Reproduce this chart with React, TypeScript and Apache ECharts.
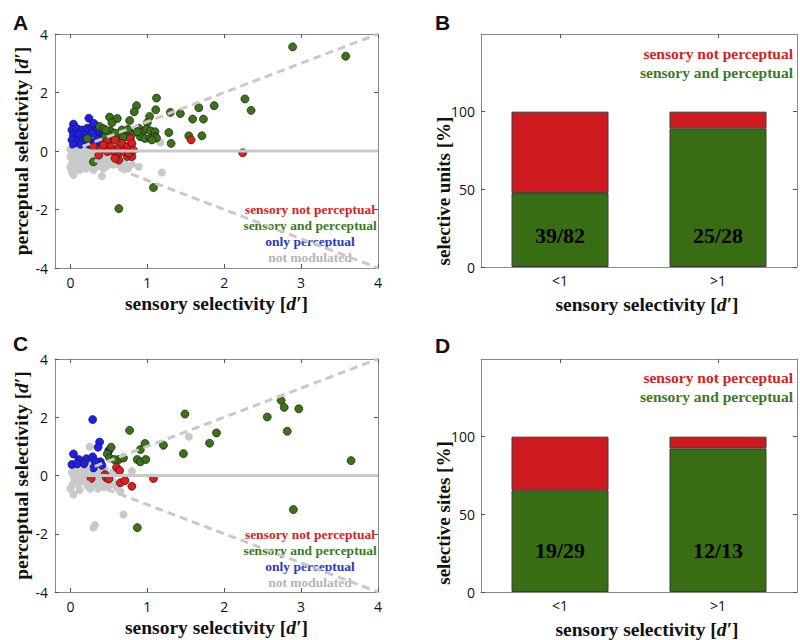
import { useEffect, useRef } from "react";
import * as echarts from "echarts";

// ---------- Panel A: single units, [sensory d', perceptual d'] ----------
const unitsNotModulated: number[][] = [
  [0.02, -0.05], [0.05, -0.15], [0.08, 0.05], [0.1, -0.25], [0.03, -0.35], [0.12, -0.4],
  [0.15, -0.1], [0.18, -0.3], [0.2, 0.02], [0.22, -0.2], [0.25, -0.45], [0.28, -0.1],
  [0.3, -0.3], [0.33, -0.05], [0.35, -0.22], [0.38, -0.4], [0.4, -0.15], [0.42, 0.05],
  [0.45, -0.3], [0.48, -0.5], [0.05, 0.1], [0.0, -0.2], [0.02, -0.45], [0.07, -0.55],
  [0.13, -0.55], [0.17, 0.1], [0.26, 0.12], [0.32, 0.15], [0.1, 0.2], [0.0, 0.05],
  [0.06, -0.3], [0.16, -0.45], [0.23, -0.35], [0.27, -0.55], [0.36, -0.52], [0.43, -0.6],
  [0.52, -0.35], [0.55, -0.15], [0.58, -0.45], [0.62, -0.3], [0.66, -0.55], [0.7, -0.4],
  [0.02, -0.71], [0.04, -0.82], [0.41, -0.86], [0.89, -0.54], [1.19, -0.74], [1.17, 0.29],
  [0.75, -0.6], [0.8, -0.45], [0.5, 0.1], [0.12, -0.65], [0.2, -0.6], [0.3, -0.65],
  [0.6, 0.0], [0.0, -0.55], [0.09, -0.12], [0.19, -0.15], [0.34, -0.38], [0.46, -0.12],
];

const unitsOnlyPerceptual: number[][] = [
  [0.24, 1.12], [0.04, 0.92], [0.02, 0.72], [0.09, 0.76], [0.15, 0.72], [0.22, 0.78],
  [0.28, 0.8], [0.32, 0.89], [0.35, 0.69], [0.04, 0.55], [0.11, 0.57], [0.19, 0.53],
  [0.28, 0.61], [0.39, 0.55], [0.02, 0.38], [0.09, 0.32], [0.17, 0.38], [0.26, 0.32],
  [0.35, 0.41], [0.41, 0.34], [0.04, 0.21], [0.13, 0.23], [0.24, 0.23], [0.32, 0.23],
  [0.39, 0.23], [0.43, 0.46], [0.3, 0.95],
];

const unitsSensoryAndPerceptual: number[][] = [
  [1.12, 1.81], [0.86, 1.55], [1.11, 1.41], [0.83, 1.34], [1.87, 1.55], [1.67, 1.48],
  [1.3, 1.32], [1.43, 1.28], [1.03, 1.18], [0.51, 1.16], [0.61, 1.11], [1.59, 1.09],
  [1.73, 1.09], [0.77, 1.04], [0.54, 0.97], [1.0, 0.97], [0.38, 0.84], [0.43, 0.76],
  [0.52, 0.69], [0.58, 0.61], [0.67, 0.72], [0.76, 0.69], [0.8, 0.57], [0.89, 0.78],
  [0.93, 0.64], [0.99, 0.75], [1.04, 0.69], [1.1, 0.66], [0.91, 0.49], [0.97, 0.43],
  [1.04, 0.43], [1.1, 0.49], [0.65, 0.43], [0.71, 0.49], [0.52, 0.43], [0.45, 0.49],
  [0.22, 0.43], [0.3, -0.37], [1.28, 0.63], [1.54, 0.52], [1.71, 0.52], [1.31, 0.26],
  [1.12, 0.44], [1.06, 0.38], [0.46, 0.72], [0.75, 0.74], [0.69, 0.47], [0.87, 0.66],
  [2.89, 3.56], [3.58, 3.24], [2.27, 1.78], [2.35, 1.39], [1.08, -1.25], [0.63, -1.97],
];

const unitsSensoryNotPerceptual: number[][] = [
  [0.3, 0.15], [0.39, 0.03], [0.37, -0.14], [0.48, 0.32], [0.52, 0.15], [0.58, 0.38],
  [0.61, 0.09], [0.67, 0.26], [0.74, 0.15], [0.78, 0.43], [0.8, 0.26], [0.56, -0.02],
  [0.61, -0.19], [0.63, -0.31], [0.74, -0.19], [0.8, -0.19], [0.69, -0.02], [0.48, -0.02],
  [0.43, 0.21], [0.58, -0.25], [0.76, -0.08], [0.82, 0.03], [1.57, 0.38], [2.24, -0.06],
];

// ---------- Panel C: recording sites ----------
const sitesNotModulated: number[][] = [
  [0.02, 0.1], [0.05, -0.1], [0.08, 0.25], [0.1, -0.3], [0.12, 0.05], [0.15, -0.2],
  [0.18, 0.2], [0.2, -0.05], [0.22, -0.35], [0.25, 0.1], [0.28, -0.15], [0.3, 0.3],
  [0.32, -0.3], [0.35, 0.05], [0.38, -0.1], [0.4, 0.15], [0.42, -0.25], [0.45, 0.2],
  [0.48, -0.05], [0.5, -0.35], [0.03, -0.3], [0.0, -0.45], [0.06, 0.4], [0.14, 0.45],
  [0.2, 0.6], [0.25, 0.99], [0.26, -0.45], [0.36, -0.45], [0.55, -0.2], [0.6, -0.4],
  [0.65, -0.55], [0.55, 0.1], [0.8, 0.15], [1.54, 1.33], [0.04, -0.65], [0.69, -1.34],
  [0.3, -1.79], [0.32, -1.7], [0.12, -0.5], [0.16, -0.05], [0.08, -0.2], [0.44, -0.4],
  [0.7, -0.2], [0.28, 0.45], [0.1, 0.15],
];

const sitesOnlyPerceptual: number[][] = [
  [0.29, 1.92], [0.38, 1.15], [0.36, 0.97], [0.5, 0.86], [0.04, 0.74], [0.11, 0.55],
  [0.21, 0.57], [0.29, 0.64], [0.39, 0.47], [0.02, 0.38], [0.09, 0.4], [0.18, 0.4],
  [0.3, 0.26], [0.41, 0.35], [0.32, 0.49],
];

const sitesSensoryAndPerceptual: number[][] = [
  [1.49, 2.11], [0.77, 1.55], [1.9, 1.46], [0.97, 1.1], [1.21, 1.04], [1.81, 1.11],
  [0.91, 0.89], [0.53, 0.97], [1.47, 0.75], [0.48, 0.74], [0.51, 0.6], [0.63, 0.55],
  [0.69, 0.6], [0.57, 0.55], [0.87, 0.55], [0.91, 0.47], [0.98, 0.55], [2.74, 2.58],
  [2.78, 2.34], [2.97, 2.29], [2.56, 2.01], [2.82, 1.52], [3.65, 0.51], [2.9, -1.17],
  [0.87, -1.79],
];

const sitesSensoryNotPerceptual: number[][] = [
  [0.6, 0.28], [0.64, 0.17], [1.08, -0.1], [0.27, -0.1], [0.45, 0.03], [0.47, -0.08],
  [0.65, -0.25], [0.71, -0.17], [0.8, -0.37], [0.5, -0.12],
];

// ---------- Panels B and D: counts per sensory-selectivity bin ----------
const sensoryBins = ["<1", ">1"];
const unitsBothCount = [39, 25];
const unitsSelectiveCount = [82, 28];
const sitesBothCount = [19, 12];
const sitesSelectiveCount = [29, 13];

// ---------- axis ticks and reference lines ----------
const sensoryTicks = [0, 1, 2, 3, 4];
const percentTicks = [0, 50, 100];
const diagonalUp = [[0, 0], [4, 4]];
const diagonalDown = [[0, 0], [4, -4]];
const zeroLine = [[0, 0], [4, 0]];

const SERIF = "'Liberation Serif', 'Times New Roman', serif";
const SANS = "'Open Sans', 'DejaVu Sans', sans-serif";
const LETTER = "'Liberation Sans', Arial, sans-serif";

const C_RED = "#e11d1d";
const C_GREEN = "#3a7414";
const C_BLUE = "#1e1ef2";
const C_GRAY = "#c9c9c9";
const BAR_RED = "#cc1a1f";
const BAR_GREEN = "#386d14";
const AXIS = "#8a8a8a";
const TICK = "#555";
const TITLE_SIZE = 19.5;

const pct = (num: number[], den: number[]) => num.map((n, i) => (n / den[i]) * 100);
const rest = (vals: number[]) => vals.map((v) => 100 - v);

const titleStyle = (shift = 0) => ({
  fontFamily: SERIF,
  fontWeight: "bold" as const,
  fontSize: TITLE_SIZE,
  color: "#111",
  padding: [0, 0, 0, shift],
  rich: {
    i: {
      fontFamily: SERIF,
      fontWeight: "bold" as const,
      fontStyle: "italic" as const,
      fontSize: TITLE_SIZE,
      color: "#111",
    },
  },
});

const tickLabel = { fontFamily: SANS, fontSize: 14, color: "#111" };

function sensoryAxes(grid: number, name: string) {
  const base = {
    gridIndex: grid,
    type: "value" as const,
    min: -0.2,
    max: 4,
    splitLine: { show: false },
    axisLine: { show: true, onZero: false, lineStyle: { color: AXIS, width: 1 } },
  };
  return [
    {
      ...base,
      position: "bottom" as const,
      axisTick: { show: true, inside: true, length: 4, customValues: sensoryTicks, lineStyle: { color: TICK } },
      axisLabel: { ...tickLabel, margin: 7, customValues: sensoryTicks },
      name,
      nameLocation: "middle" as const,
      nameGap: 25,
      nameTextStyle: titleStyle(),
    },
    {
      ...base,
      position: "top" as const,
      axisTick: { show: true, inside: true, length: 4, customValues: sensoryTicks, lineStyle: { color: TICK } },
      axisLabel: { show: false },
    },
  ];
}

function perceptualAxes(grid: number, name: string) {
  const base = {
    gridIndex: grid,
    type: "value" as const,
    min: -4,
    max: 4,
    interval: 2,
    splitLine: { show: false },
    axisLine: { show: true, onZero: false, lineStyle: { color: AXIS, width: 1 } },
    axisTick: { show: true, inside: true, length: 4, lineStyle: { color: TICK } },
  };
  return [
    {
      ...base,
      position: "left" as const,
      axisLabel: { ...tickLabel, margin: 7 },
      name,
      nameLocation: "middle" as const,
      nameGap: 21,
      nameTextStyle: titleStyle(),
    },
    { ...base, position: "right" as const, axisLabel: { show: false } },
  ];
}

function binAxes(grid: number, name: string) {
  const base = {
    gridIndex: grid,
    type: "category" as const,
    data: sensoryBins,
    axisLine: { show: true, onZero: false, lineStyle: { color: AXIS, width: 1 } },
    axisTick: { show: true, inside: true, length: 4, alignWithLabel: true, lineStyle: { color: TICK } },
    splitLine: { show: false },
  };
  return [
    {
      ...base,
      position: "bottom" as const,
      axisLabel: { ...tickLabel, margin: 6 },
      name,
      nameLocation: "middle" as const,
      nameGap: 27,
      nameTextStyle: titleStyle(16),
    },
    { ...base, position: "top" as const, axisLabel: { show: false } },
  ];
}

function percentAxes(grid: number) {
  const base = {
    gridIndex: grid,
    type: "value" as const,
    min: 0,
    max: 150,
    splitLine: { show: false },
    axisLine: { show: true, onZero: false, lineStyle: { color: AXIS, width: 1 } },
    axisTick: { show: true, inside: true, length: 4, customValues: percentTicks, lineStyle: { color: TICK } },
  };
  return [
    { ...base, position: "left" as const, axisLabel: { ...tickLabel, margin: 6, customValues: percentTicks } },
    { ...base, position: "right" as const, axisLabel: { show: false } },
  ];
}

function refLine(data: number[][], axis: number, dashed: boolean) {
  return {
    type: "line" as const,
    xAxisIndex: axis,
    yAxisIndex: axis,
    data,
    symbol: "none",
    silent: true,
    lineStyle: { color: C_GRAY, width: 3, type: dashed ? [8, 5] : "solid" },
  };
}

function dots(data: number[][], axis: number, color: string, outlined: boolean) {
  return {
    type: "scatter" as const,
    xAxisIndex: axis,
    yAxisIndex: axis,
    data,
    symbol: "circle",
    symbolSize: 8,
    itemStyle: outlined
      ? { color, borderColor: "#1a1a1a", borderWidth: 0.7, opacity: 1 }
      : { color, borderWidth: 0, opacity: 1 },
  };
}

function stackedBars(axis: number, stack: string, num: number[], den: number[], labelLift: number) {
  const both = pct(num, den);
  return [
    {
      type: "bar" as const,
      xAxisIndex: axis,
      yAxisIndex: axis,
      stack,
      data: both,
      barWidth: 97,
      itemStyle: { color: BAR_GREEN, borderColor: "#3b3b3b", borderWidth: 1 },
      label: {
        show: true,
        position: "insideBottom" as const,
        distance: labelLift,
        formatter: (p: any) => `${num[p.dataIndex]}/${den[p.dataIndex]}`,
        fontFamily: SERIF,
        fontWeight: "bold" as const,
        fontSize: 22,
        color: "#000",
      },
    },
    {
      type: "bar" as const,
      xAxisIndex: axis,
      yAxisIndex: axis,
      stack,
      data: rest(both),
      barWidth: 97,
      itemStyle: { color: BAR_RED, borderColor: "#3b3b3b", borderWidth: 1 },
    },
  ];
}

function scatterLegend(top: number) {
  const rows: [string, string][] = [
    ["sensory not perceptual", "#d92222"],
    ["sensory and perceptual", "#3b7b1e"],
    ["only perceptual", "#2a38c6"],
    ["not modulated", "#b5b5b5"],
  ];
  return rows.map(([text, fill], i) => ({
    type: "text" as const,
    x: 310,
    y: top + i * 16.3,
    style: { text, fill, font: `bold 13.5px ${SERIF}`, align: "center", verticalAlign: "middle" },
  }));
}

function barLegend(top: number) {
  return [
    {
      type: "text" as const,
      x: 793,
      y: top,
      style: { text: "sensory not perceptual", fill: "#d42222", font: `bold 15.5px ${SERIF}`, align: "right", verticalAlign: "middle" },
    },
    {
      type: "text" as const,
      x: 793,
      y: top + 19.5,
      style: { text: "sensory and perceptual", fill: "#3b7b1e", font: `bold 15.5px ${SERIF}`, align: "right", verticalAlign: "middle" },
    },
  ];
}

function panelLetter(text: string, x: number, y: number) {
  return {
    type: "text" as const,
    x,
    y,
    style: { text, fill: "#111", font: `bold 21px ${LETTER}`, verticalAlign: "middle" },
  };
}

function verticalTitle(text: string, x: number, y: number) {
  return {
    type: "text" as const,
    x,
    y,
    rotation: Math.PI / 2,
    style: { text, fill: "#111", font: `bold 19px ${SERIF}`, align: "center", verticalAlign: "middle" },
  };
}

export default function App() {
  const ref = useRef<HTMLDivElement>(null);

  useEffect(() => {
    if (!ref.current) return;
    const chart = echarts.init(ref.current, undefined, { renderer: "svg" });
    const sensoryName = "sensory selectivity [{i|d′}]";
    const perceptualName = "perceptual selectivity [{i|d′}]";

    chart.setOption({
      animation: false,
      backgroundColor: "#ffffff",
      grid: [
        { left: 55, top: 34, width: 323, height: 234 },
        { left: 55, top: 359, width: 323, height: 233 },
        { left: 481, top: 34, width: 316, height: 233 },
        { left: 481, top: 359, width: 316, height: 233 },
      ],
      xAxis: [
        ...sensoryAxes(0, sensoryName),
        ...sensoryAxes(1, sensoryName),
        ...binAxes(2, sensoryName),
        ...binAxes(3, sensoryName),
      ],
      yAxis: [
        ...perceptualAxes(0, perceptualName),
        ...perceptualAxes(1, perceptualName),
        ...percentAxes(2),
        ...percentAxes(3),
      ],
      series: [
        // A
        refLine(zeroLine, 0, false),
        refLine(diagonalUp, 0, true),
        refLine(diagonalDown, 0, true),
        dots(unitsNotModulated, 0, C_GRAY, false),
        dots(unitsOnlyPerceptual, 0, C_BLUE, true),
        dots(unitsSensoryAndPerceptual, 0, C_GREEN, true),
        dots(unitsSensoryNotPerceptual, 0, C_RED, true),
        // C
        refLine(zeroLine, 2, false),
        refLine(diagonalUp, 2, true),
        refLine(diagonalDown, 2, true),
        dots(sitesNotModulated, 2, C_GRAY, false),
        dots(sitesOnlyPerceptual, 2, C_BLUE, true),
        dots(sitesSensoryAndPerceptual, 2, C_GREEN, true),
        dots(sitesSensoryNotPerceptual, 2, C_RED, true),
        // B and D
        ...stackedBars(4, "units", unitsBothCount, unitsSelectiveCount, 21),
        ...stackedBars(6, "sites", sitesBothCount, sitesSelectiveCount, 31),
      ],
      graphic: [
        panelLetter("A", 13, 22),
        panelLetter("B", 435, 22),
        panelLetter("C", 13, 343),
        panelLetter("D", 435, 345),
        ...scatterLegend(209),
        ...scatterLegend(534),
        ...barLegend(53),
        ...barLegend(377),
        verticalTitle("selective units [%]", 443, 191),
        verticalTitle("selective sites [%]", 443, 513),
      ],
    });

    return () => chart.dispose();
  }, []);

  return (
    <div
      ref={ref}
      style={{ position: "fixed", left: 0, top: 0, width: 800, height: 640, background: "#fff" }}
    />
  );
}
